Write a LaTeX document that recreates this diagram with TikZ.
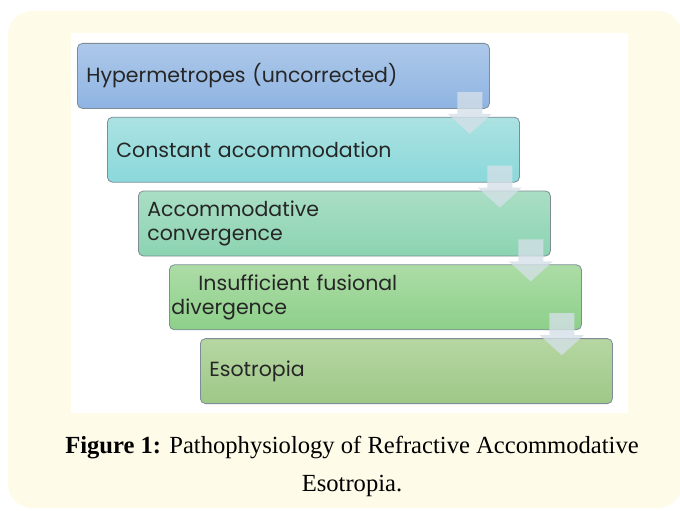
\documentclass[tikz,border=0pt]{standalone}
\usepackage{fontspec}
\usepackage{tikz}
\usetikzlibrary{positioning}
\newfontfamily\boxfont{Poppins}
\newfontfamily\capfont{Liberation Serif}

\definecolor{cream}{RGB}{254,251,233}
\definecolor{boxline}{RGB}{125,140,150}
\definecolor{boxtext}{RGB}{38,38,38}
\definecolor{arrowgray}{RGB}{213,224,232}

\tikzset{
    stepbox/.style={draw=boxline, line width=0.8pt, rounded corners=5pt,
        minimum height=65pt, text width=394pt, inner xsep=9pt, inner ysep=0pt,
        align=left, anchor=north west, text=boxtext,
        font=\boxfont\fontsize{20.5}{23.5}\selectfont},
    captext/.style={font=\capfont\fontsize{24.6}{28}\selectfont, anchor=base, inner sep=0pt},
    pics/downarrow/.style={code={
        \fill[arrowgray, opacity=0.78] (-12.5,-21) -- (12.5,-21) -- (12.5,1) -- (22,1)
            -- (0,21) -- (-22,1) -- (-12.5,1) -- cycle;
    }}
}

\begin{document}
\begin{tikzpicture}[x=1pt, y=-1pt]

% --- Frame ---
\useasboundingbox (0,0) rectangle (680,511);
\fill[cream, rounded corners=24pt] (8,11) rectangle (682,508);
\fill[white] (71,33) rectangle (628,413);

% --- Steps ---
\node[stepbox, top color={rgb,255:red,173;green,200;blue,233}, bottom color={rgb,255:red,143;green,180;blue,226}]
    (hyp) at (77,43) {Hypermetropes (uncorrected)};
\node[stepbox, top color={rgb,255:red,172;green,226;blue,226}, bottom color={rgb,255:red,138;green,216;blue,218},
    below=8pt of hyp.south west, anchor=north west, xshift=30pt]
    (acc) {Constant accommodation};
\node[stepbox, top color={rgb,255:red,170;green,222;blue,196}, bottom color={rgb,255:red,139;green,212;blue,178},
    below=8pt of acc.south west, anchor=north west, xshift=31pt]
    (conv) {Accommodative\\convergence};
\node[stepbox, top color={rgb,255:red,172;green,220;blue,166}, bottom color={rgb,255:red,141;green,208;blue,138},
    below=8pt of conv.south west, anchor=north west, xshift=31pt, inner xsep=2pt, text width=408pt]
    (fus) {\hspace*{27pt}Insufficient fusional\\divergence};
\node[stepbox, top color={rgb,255:red,182;green,214;blue,162}, bottom color={rgb,255:red,158;green,200;blue,136},
    below=8pt of fus.south west, anchor=north west, xshift=31pt]
    (eso) {Esotropia};

% --- Block arrows between steps ---
\foreach \a in {hyp, acc, conv, fus}
    \pic at ([xshift=-20pt, yshift=-4pt]\a.south east) {downarrow};

% --- Caption ---
\node[captext] (capa) at (352,453) {\textbf{Figure 1:} Pathophysiology of Refractive Accommodative};
\node[captext] (capb) at ([yshift=-38pt]capa.base) {Esotropia.};

\end{tikzpicture}
\end{document}
